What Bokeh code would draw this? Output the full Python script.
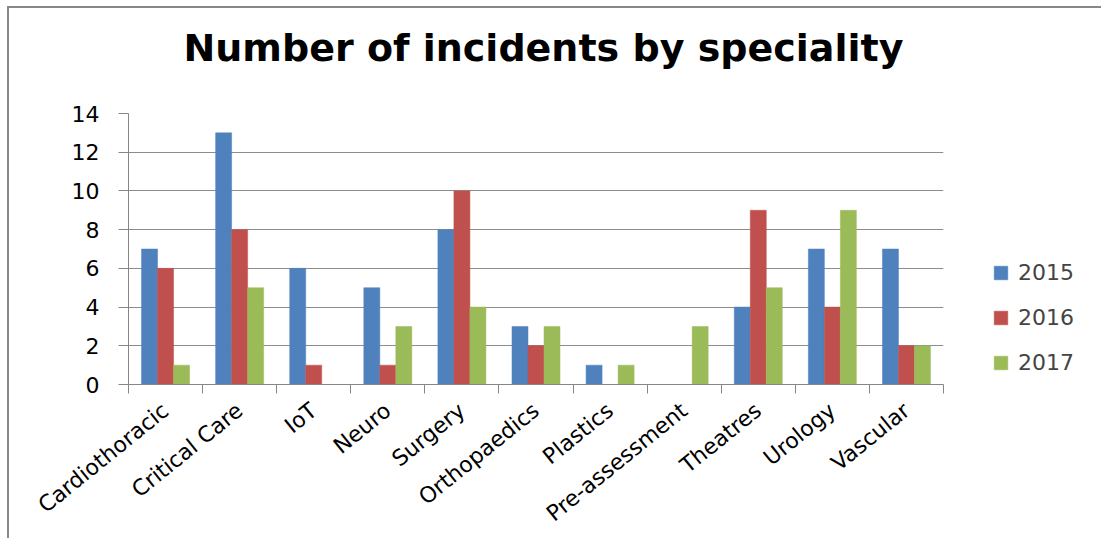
import math
from bokeh.plotting import figure
from bokeh.models import (ColumnDataSource, FixedTicker, Legend, LegendItem, Range1d, Column)
from bokeh.embed import file_html
from bokeh.resources import INLINE

categories = ["Cardiothoracic", "Critical Care", "IoT", "Neuro", "Surgery",
              "Orthopaedics", "Plastics", "Pre-assessment", "Theatres",
              "Urology", "Vascular"]
years = ["2015", "2016", "2017"]
v2015 = [7, 13, 6, 5, 8, 3, 1, 0, 4, 7, 7]
v2016 = [6, 8, 1, 1, 10, 2, 0, 0, 9, 4, 2]
v2017 = [1, 5, 0, 3, 4, 3, 1, 3, 5, 9, 2]
y_ticks = [0, 2, 4, 6, 8, 10, 12, 14]
title_text = "Number of incidents by speciality"

colors = ["#4F81BD", "#C0504D", "#9BBB59"]
series = [v2015, v2016, v2017]

FONT = "DejaVu Sans"

p = figure(frame_width=815, frame_height=271, output_backend="svg", toolbar_location=None,
           x_range=Range1d(0, len(categories)), y_range=Range1d(0, 14),
           min_border_left=119, min_border_top=140, min_border_right=150,
           min_border_bottom=150)
p.styles = {"margin-top": "-35px"}
p.outline_line_color = None
p.background_fill_color = "white"
p.border_fill_alpha = 0

bw = 0.216
offsets = [-bw, 0.0, bw]
renderers = []
for vals, col, off in zip(series, colors, offsets):
    src = ColumnDataSource(dict(x=[i + 0.5 + off for i in range(len(categories))], top=vals))
    r = p.vbar(x="x", top="top", bottom=0, width=bw, source=src,
               fill_color=col, line_color=col, line_width=0.5)
    renderers.append(r)

# Title
p.title.text = title_text
p.title.text_font = FONT
p.title.text_font_style = "bold"
p.title.text_font_size = "38px"
p.title.text_color = "#000000"
p.title.align = "left"
p.title.offset = 55
p.title.standoff = 88

# Y axis
p.yaxis.ticker = FixedTicker(ticks=y_ticks)
p.yaxis.axis_line_color = "#868686"
p.yaxis.major_tick_line_color = "#868686"
p.yaxis.major_tick_out = 10
p.yaxis.major_tick_in = 0
p.yaxis.minor_tick_line_color = None
p.yaxis.major_label_text_font = FONT
p.yaxis.major_label_text_font_size = "22px"
p.yaxis.major_label_text_color = "#000000"
p.yaxis.major_label_standoff = 19

# X axis
centers = [i + 0.5 for i in range(len(categories))]
bounds = list(range(len(categories) + 1))
p.xaxis.ticker = FixedTicker(ticks=centers, minor_ticks=bounds)
p.xaxis.major_label_overrides = {c: name for c, name in zip(centers, categories)}
p.xaxis.axis_line_color = "#868686"
p.xaxis.major_tick_line_color = None
p.xaxis.minor_tick_line_color = "#868686"
p.xaxis.minor_tick_out = 9
p.xaxis.minor_tick_in = 0
p.xaxis.major_label_orientation = 0.68
p.xaxis.major_label_text_font = FONT
p.xaxis.major_label_text_font_size = "22px"
p.xaxis.major_label_text_color = "#000000"
p.xaxis.major_label_standoff = 14

p.xgrid.grid_line_color = None
p.ygrid.ticker = FixedTicker(ticks=y_ticks)
p.ygrid.grid_line_color = "#8c8c8c"
p.ygrid.grid_line_width = 1

legend = Legend(items=[LegendItem(label=y, renderers=[r]) for y, r in zip(years, renderers)],
                location=(49, 9))
legend.border_line_color = None
legend.background_fill_alpha = 0
legend.label_text_font = FONT
legend.label_text_font_size = "22px"
legend.glyph_width = 17
legend.glyph_height = 17
legend.spacing = 20
legend.padding = 0
legend.margin = 0
legend.label_standoff = 9
p.add_layout(legend, "right")

wrap = Column(children=[p],
              styles={"border-top": "2px solid #888888", "border-left": "2px solid #888888",
                      "margin-left": "7px", "margin-top": "6px", "overflow": "hidden"})

open("out.html", "w").write(file_html(wrap, INLINE))
